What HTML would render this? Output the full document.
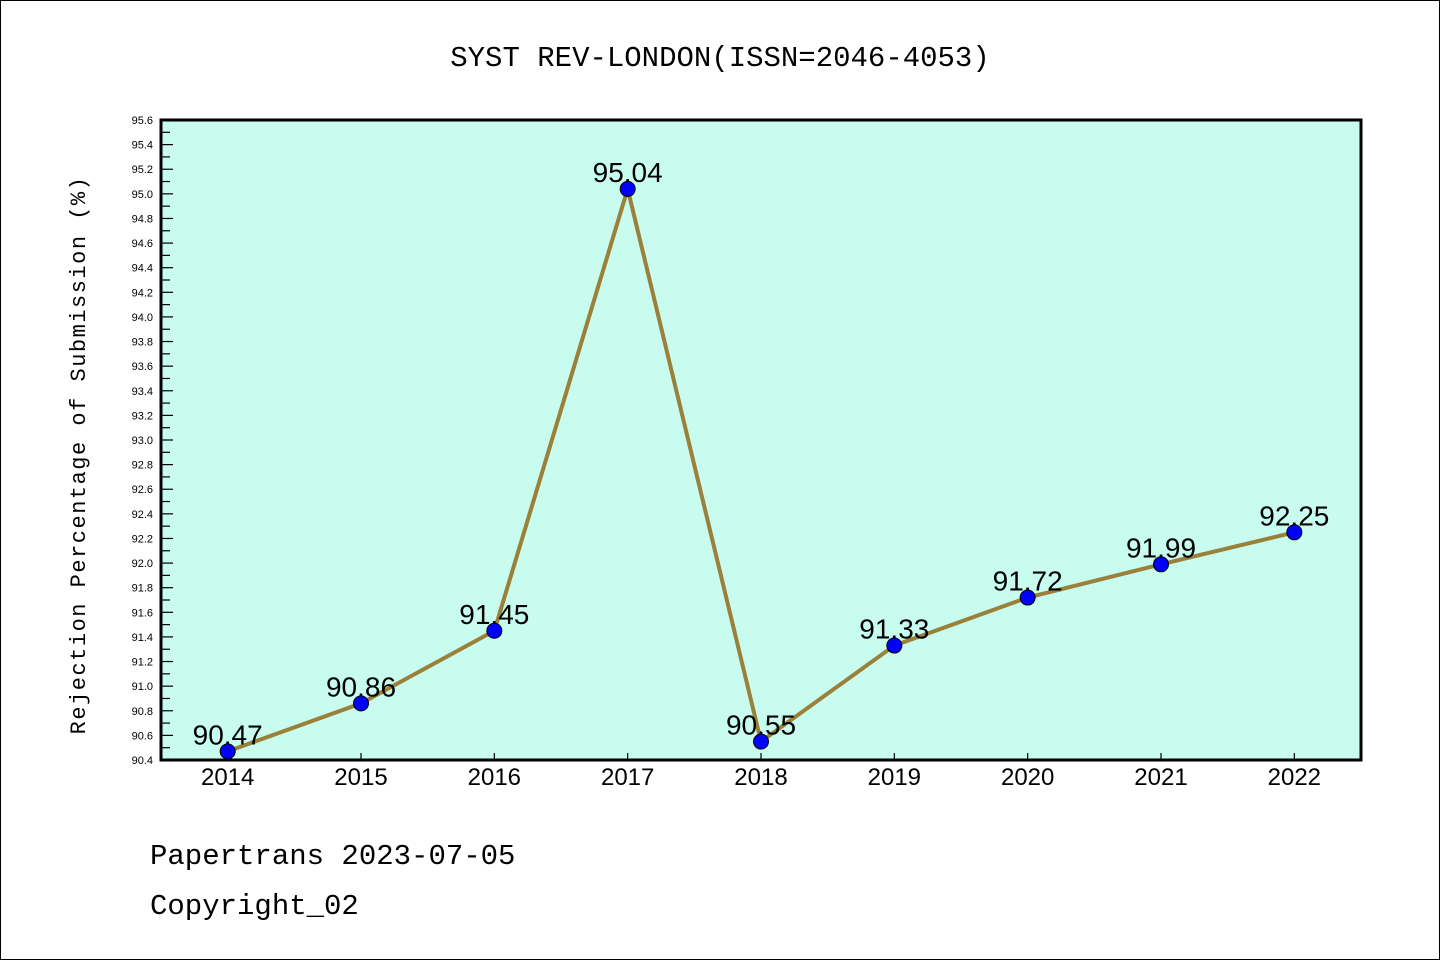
<!DOCTYPE html>
<html><head><meta charset="utf-8"><style>
body{margin:0;background:#fff}
svg{display:block;font-family:"Liberation Mono","DejaVu Sans Mono",monospace}
</style></head><body>
<svg id="chart" width="1440" height="960" xmlns="http://www.w3.org/2000/svg">
<rect x="0.5" y="0.5" width="1439" height="959" fill="#fff" stroke="#000" stroke-width="1"/>
<text x="720" y="66" text-anchor="middle" font-size="29">SYST REV-LONDON(ISSN=2046-4053)</text>
<rect x="161" y="120" width="1200" height="640" fill="#c7fcee"/>
<g id="axes"></g>
<g id="series"></g>
<rect x="161" y="120" width="1200" height="640" fill="none" stroke="#000" stroke-width="3"/>
<text transform="translate(85,455) rotate(-90)" text-anchor="middle" font-size="22" letter-spacing="1.5">Rejection Percentage of Submission (%)</text>
<text x="150" y="864" font-size="29">Papertrans 2023-07-05</text>
<text x="150" y="914" font-size="29">Copyright_02</text>
</svg>
<script>
const years=["2014","2015","2016","2017","2018","2019","2020","2021","2022"];
const values=[90.47,90.86,91.45,95.04,90.55,91.33,91.72,91.99,92.25];
const labels=["90.47","90.86","91.45","95.04","90.55","91.33","91.72","91.99","92.25"];
const yMin=90.4,yMax=95.6;
const NS="http://www.w3.org/2000/svg";
const L=161,R=1361,T=120,B=760;
function x(i){return L+(i+0.5)*(R-L)/years.length;}
function y(v){return B-(v-yMin)/(yMax-yMin)*(B-T);}
function mk(t,a,p){const e=document.createElementNS(NS,t);for(const k in a)e.setAttribute(k,a[k]);p.appendChild(e);return e;}
const ax=document.getElementById('axes'),se=document.getElementById('series');
for(let k=0;k<=52;k++){const v=yMin+k*0.1;const yy=y(v);const major=k%2===0;
 const t=mk('line',{x1:L,x2:L+(major?12:9),y1:yy,y2:yy,stroke:'#000','stroke-width':1.2},ax);
 
 
 if(major){const tx=mk('text',{x:153,y:yy+4,'text-anchor':'end','font-size':11,'font-family':'Liberation Sans, sans-serif'},ax);tx.textContent=v.toFixed(1);
 
 }
}
years.forEach((yr,i)=>{const t=mk('line',{x1:x(i),x2:x(i),y1:B,y2:B-7,stroke:'#000','stroke-width':1.2},ax);
 
 
 const tx=mk('text',{x:x(i),y:785,'text-anchor':'middle','font-size':24,'font-family':'Liberation Sans, sans-serif'},ax);tx.textContent=yr;
 
 
});
const pl=mk('polyline',{points:values.map((v,i)=>x(i)+','+y(v)).join(' '),fill:'none',stroke:'#9a8038','stroke-width':4},se);


values.forEach((v,i)=>{
 const c=mk('circle',{cx:x(i),cy:y(v),r:7.5,fill:'#0000ff',stroke:'#000','stroke-width':1},se);
 
 
 const tx=mk('text',{x:x(i),y:y(v)-7,'text-anchor':'middle','font-size':28,'font-family':'Liberation Sans, sans-serif'},se);tx.textContent=labels[i];
 
 
});
</script>
</body></html>
